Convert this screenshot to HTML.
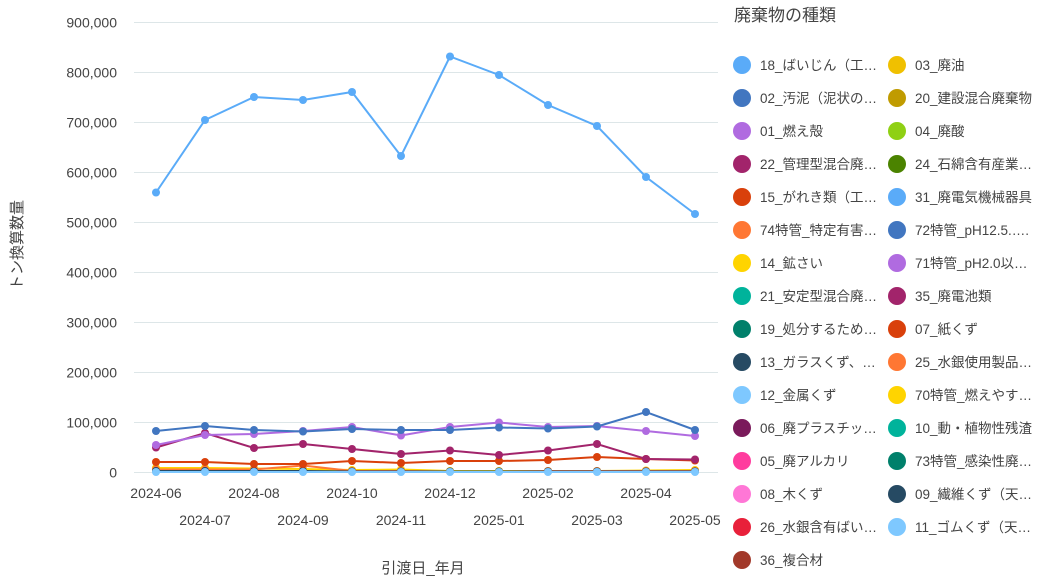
<!DOCTYPE html>
<html><head><meta charset="utf-8">
<style>
body{margin:0;background:#fff;width:1049px;height:579px;overflow:hidden;font-family:"Liberation Sans","Noto Sans CJK JP",sans-serif;}
svg text{font-family:"Liberation Sans","Noto Sans CJK JP",sans-serif;fill:#444;}
</style></head>
<body>
<svg id="chart" width="1049" height="579" viewBox="0 0 1049 579">
<g id="grid"></g>
<g id="yaxis"></g>
<g id="xaxis"></g>
<text transform="translate(22,245) rotate(-90)" text-anchor="middle" font-size="15">トン換算数量</text>
<text x="423" y="573" text-anchor="middle" font-size="15">引渡日_年月</text>
<g id="series"></g>
<text x="734" y="21" font-size="17">廃棄物の種類</text>
<g id="legend"></g>
</svg>
<script>
const months=["2024-06","2024-07","2024-08","2024-09","2024-10","2024-11","2024-12","2025-01","2025-02","2025-03","2025-04","2025-05"];
const yTicks=[0,100000,200000,300000,400000,500000,600000,700000,800000,900000];
const seriesNames=["18_ばいじん（工…","02_汚泥（泥状の…","01_燃え殻","22_管理型混合廃…","15_がれき類（工…","74特管_特定有害…","14_鉱さい","21_安定型混合廃…","19_処分するため…","13_ガラスくず、…","12_金属くず","06_廃プラスチッ…","05_廃アルカリ","08_木くず","26_水銀含有ばい…","36_複合材","03_廃油","20_建設混合廃棄物","04_廃酸","24_石綿含有産業…","31_廃電気機械器具","72特管_pH12.5.….","71特管_pH2.0以…","35_廃電池類","07_紙くず","25_水銀使用製品…","70特管_燃えやす…","10_動・植物性残渣","73特管_感染性廃…","09_繊維くず（天…","11_ゴムくず（天…"];
const seriesColors=["#5aabf8","#4176c0","#b06be0","#a2246b","#d9400b","#ff7733","#ffd400","#00b39b","#00806b","#264a63","#7ec8ff","#7a1a5b","#ff3c9e","#ff77d6","#e8203a","#a2392a","#f0c000","#c09b00","#8fd014","#4b8300","#5aabf8","#4176c0","#b06be0","#a2246b","#d9400b","#ff7733","#ffd400","#00b39b","#00806b","#264a63","#7ec8ff"];
const s18=[560000,705000,751000,745000,761000,633000,832000,795000,735000,693000,591000,517000];
const s02=[83000,93000,85000,82000,87000,85000,85000,90000,88000,92000,121000,85000];
const s01=[55000,75000,77000,83000,91000,74000,91000,100000,91000,93000,83000,73000];
const s22=[50000,79000,49000,57000,47000,37000,44000,35000,44000,57000,27000,26000];
const s15=[21000,21000,17000,17000,23000,19000,23000,23000,25000,31000,27000,24000];
const s74=[6000,6000,6000,14000,3000,3000,2000,2000,3000,3000,3000,3000];
const s14=[9000,9000,8000,7000,5000,6000,3000,3000,3000,3000,4000,5000];
const s13=[3000,3000,3000,3000,2000,2000,2000,2000,2000,2000,2000,2000];
const s12=[1000,1000,1000,1000,1000,1000,1000,1000,1000,1000,1000,1000];
const plotted=[[s18,0],[s14,6],[s74,5],[s13,9],[s12,10],[s15,4],[s22,3],[s01,2],[s02,1]];
const X0=156,X1=695,Y0=472.5,Y1=22.5,YMAX=900000;
const xs=i=>X0+(X1-X0)*i/(months.length-1);
const ys=v=>Y0-(Y0-Y1)*v/YMAX;
const NS="http://www.w3.org/2000/svg";
function mk(t,a,p){const e=document.createElementNS(NS,t);for(const k in a)e.setAttribute(k,a[k]);p.appendChild(e);return e;}
const grid=document.getElementById('grid'),ya=document.getElementById('yaxis'),xa=document.getElementById('xaxis'),sg=document.getElementById('series'),lg=document.getElementById('legend');
yTicks.forEach(v=>{
 const l=mk('line',{x1:134,x2:718,y1:ys(v),y2:ys(v),stroke:'#dde6e8','stroke-width':1},grid);
 
 
 const t=mk('text',{x:117,y:ys(v)+5,'text-anchor':'end','font-size':14},ya);
 
 
 t.textContent=v.toLocaleString('en-US');
});
months.forEach((m,i)=>{
 const t=mk('text',{x:xs(i),y:i%2?525:498,'text-anchor':'middle','font-size':14},xa);
 
 
 t.textContent=m;
});
plotted.forEach(([d,ci])=>{
 const c=seriesColors[ci];
 const p=mk('polyline',{points:d.map((v,i)=>xs(i)+','+ys(v)).join(' '),fill:'none',stroke:c,'stroke-width':2},sg);
 
 
 d.forEach((v,i)=>{
  const c2=mk('circle',{cx:xs(i),cy:ys(v),r:4,fill:c},sg);
  
  
 });
});
seriesNames.forEach((n,i)=>{
 const col=i<16?0:1,row=i<16?i:i-16;
 const cx=col?897:742,cy=65+row*33;
 const g=mk('g',{},lg);
 
 
 mk('circle',{cx:cx,cy:cy,r:9,fill:seriesColors[i]},g);
 const t=mk('text',{x:cx+18,y:cy+5,'font-size':13.5},g);
 t.textContent=n;
});
</script>
</body></html>
